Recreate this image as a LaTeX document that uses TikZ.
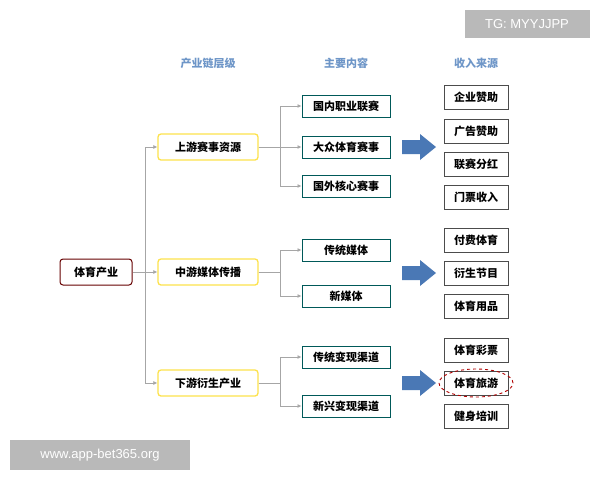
\documentclass[tikz,border=0pt]{standalone}
\usepackage{fontspec}
\newfontfamily\cjk{Noto Sans CJK SC}
\newfontfamily\wm{Liberation Sans}
\usetikzlibrary{arrows.meta}
\definecolor{steel}{HTML}{4A78B5}
\definecolor{hd}{HTML}{6E96C8}
\begin{document}
\begin{tikzpicture}[x=1pt,y=-1pt,font=\cjk\fontsize{11}{13}\selectfont\bfseries,
 conn/.style={draw=gray!70,line width=0.7pt},
 arr/.style={conn,-{Latex[length=4pt,width=4pt]}},
 rootbox/.style={draw=red!40!black,line width=1pt,rounded corners=3pt,minimum width=72pt,minimum height=26pt,fill=white},
 lvbox/.style={draw=yellow!75!orange!70,line width=1.3pt,rounded corners=3pt,minimum width=100pt,minimum height=26pt,fill=white},
 ctbox/.style={draw=teal!70!black,line width=1pt,minimum width=88pt,minimum height=22pt,fill=white},
 srcbox/.style={draw=black!70,line width=0.8pt,minimum width=64pt,minimum height=24pt,fill=white},
 head/.style={text=hd},
 wmbox/.style={fill=gray!55,text=white,font=\wm\fontsize{13}{15}\selectfont}]
\useasboundingbox (0,0) rectangle (600,480);
\fill[white] (0,0) rectangle (600,480);
\node[head] (h1) at (208,63) {产业链层级};
\node[head] (h2) at (346,63) {主要内容};
\node[head] (h3) at (476,63) {收入来源};
\node[rootbox] (r) at (96,272) {体育产业};
\node[lvbox] (a) at (208,147) {上游赛事资源};
\node[lvbox] (b) at (208,272) {中游媒体传播};
\node[lvbox] (c) at (208,383) {下游衍生产业};
\node[ctbox] (a1) at (346,106) {国内职业联赛};
\node[ctbox] (a2) at (346,147) {大众体育赛事};
\node[ctbox] (a3) at (346,186) {国外核心赛事};
\node[ctbox] (b1) at (346,250) {传统媒体};
\node[ctbox] (b2) at (346,296) {新媒体};
\node[ctbox] (c1) at (346,357) {传统变现渠道};
\node[ctbox] (c2) at (346,406) {新兴变现渠道};
\foreach \n/\t/\y in {s1/企业赞助/97,s2/广告赞助/131,s3/联赛分红/164,s4/门票收入/197,s5/付费体育/240,s6/衍生节目/273,s7/体育用品/306,s8/体育彩票/350,s9/体育旅游/383,s10/健身培训/416}
  \node[srcbox] (\n) at (476,\y) {\t};
\draw[red!70!black,dashed,line width=0.9pt] (s9) ellipse (37pt and 14pt);
\coordinate (t) at (145,272);
\draw[conn] (r.east) -- (t);
\draw[arr] (t) |- (a.west);
\draw[arr] (t) -- (b.west);
\draw[arr] (t) |- (c.west);
\foreach \p/\k in {a/a1,a/a2,a/a3,b/b1,b/b2,c/c1,c/c2}{
  \coordinate (m) at ([xshift=22pt]\p.east);
  \draw[conn] (\p.east) -- (m);
  \draw[arr] (m) |- (\k.west);
}
\foreach \y in {147,273,383}
  \fill[steel] (402,\y-7) -- (420,\y-7) -- (420,\y-13) -- (436,\y) -- (420,\y+13) -- (420,\y+7) -- (402,\y+7) -- cycle;
\node[wmbox,minimum width=125pt,minimum height=28pt] (w1) at (527,24) {TG: MYYJJPP};
\node[wmbox,minimum width=180pt,minimum height=30pt] (w2) at (100,455) {www.app-bet365.org};
\end{tikzpicture}
\end{document}
